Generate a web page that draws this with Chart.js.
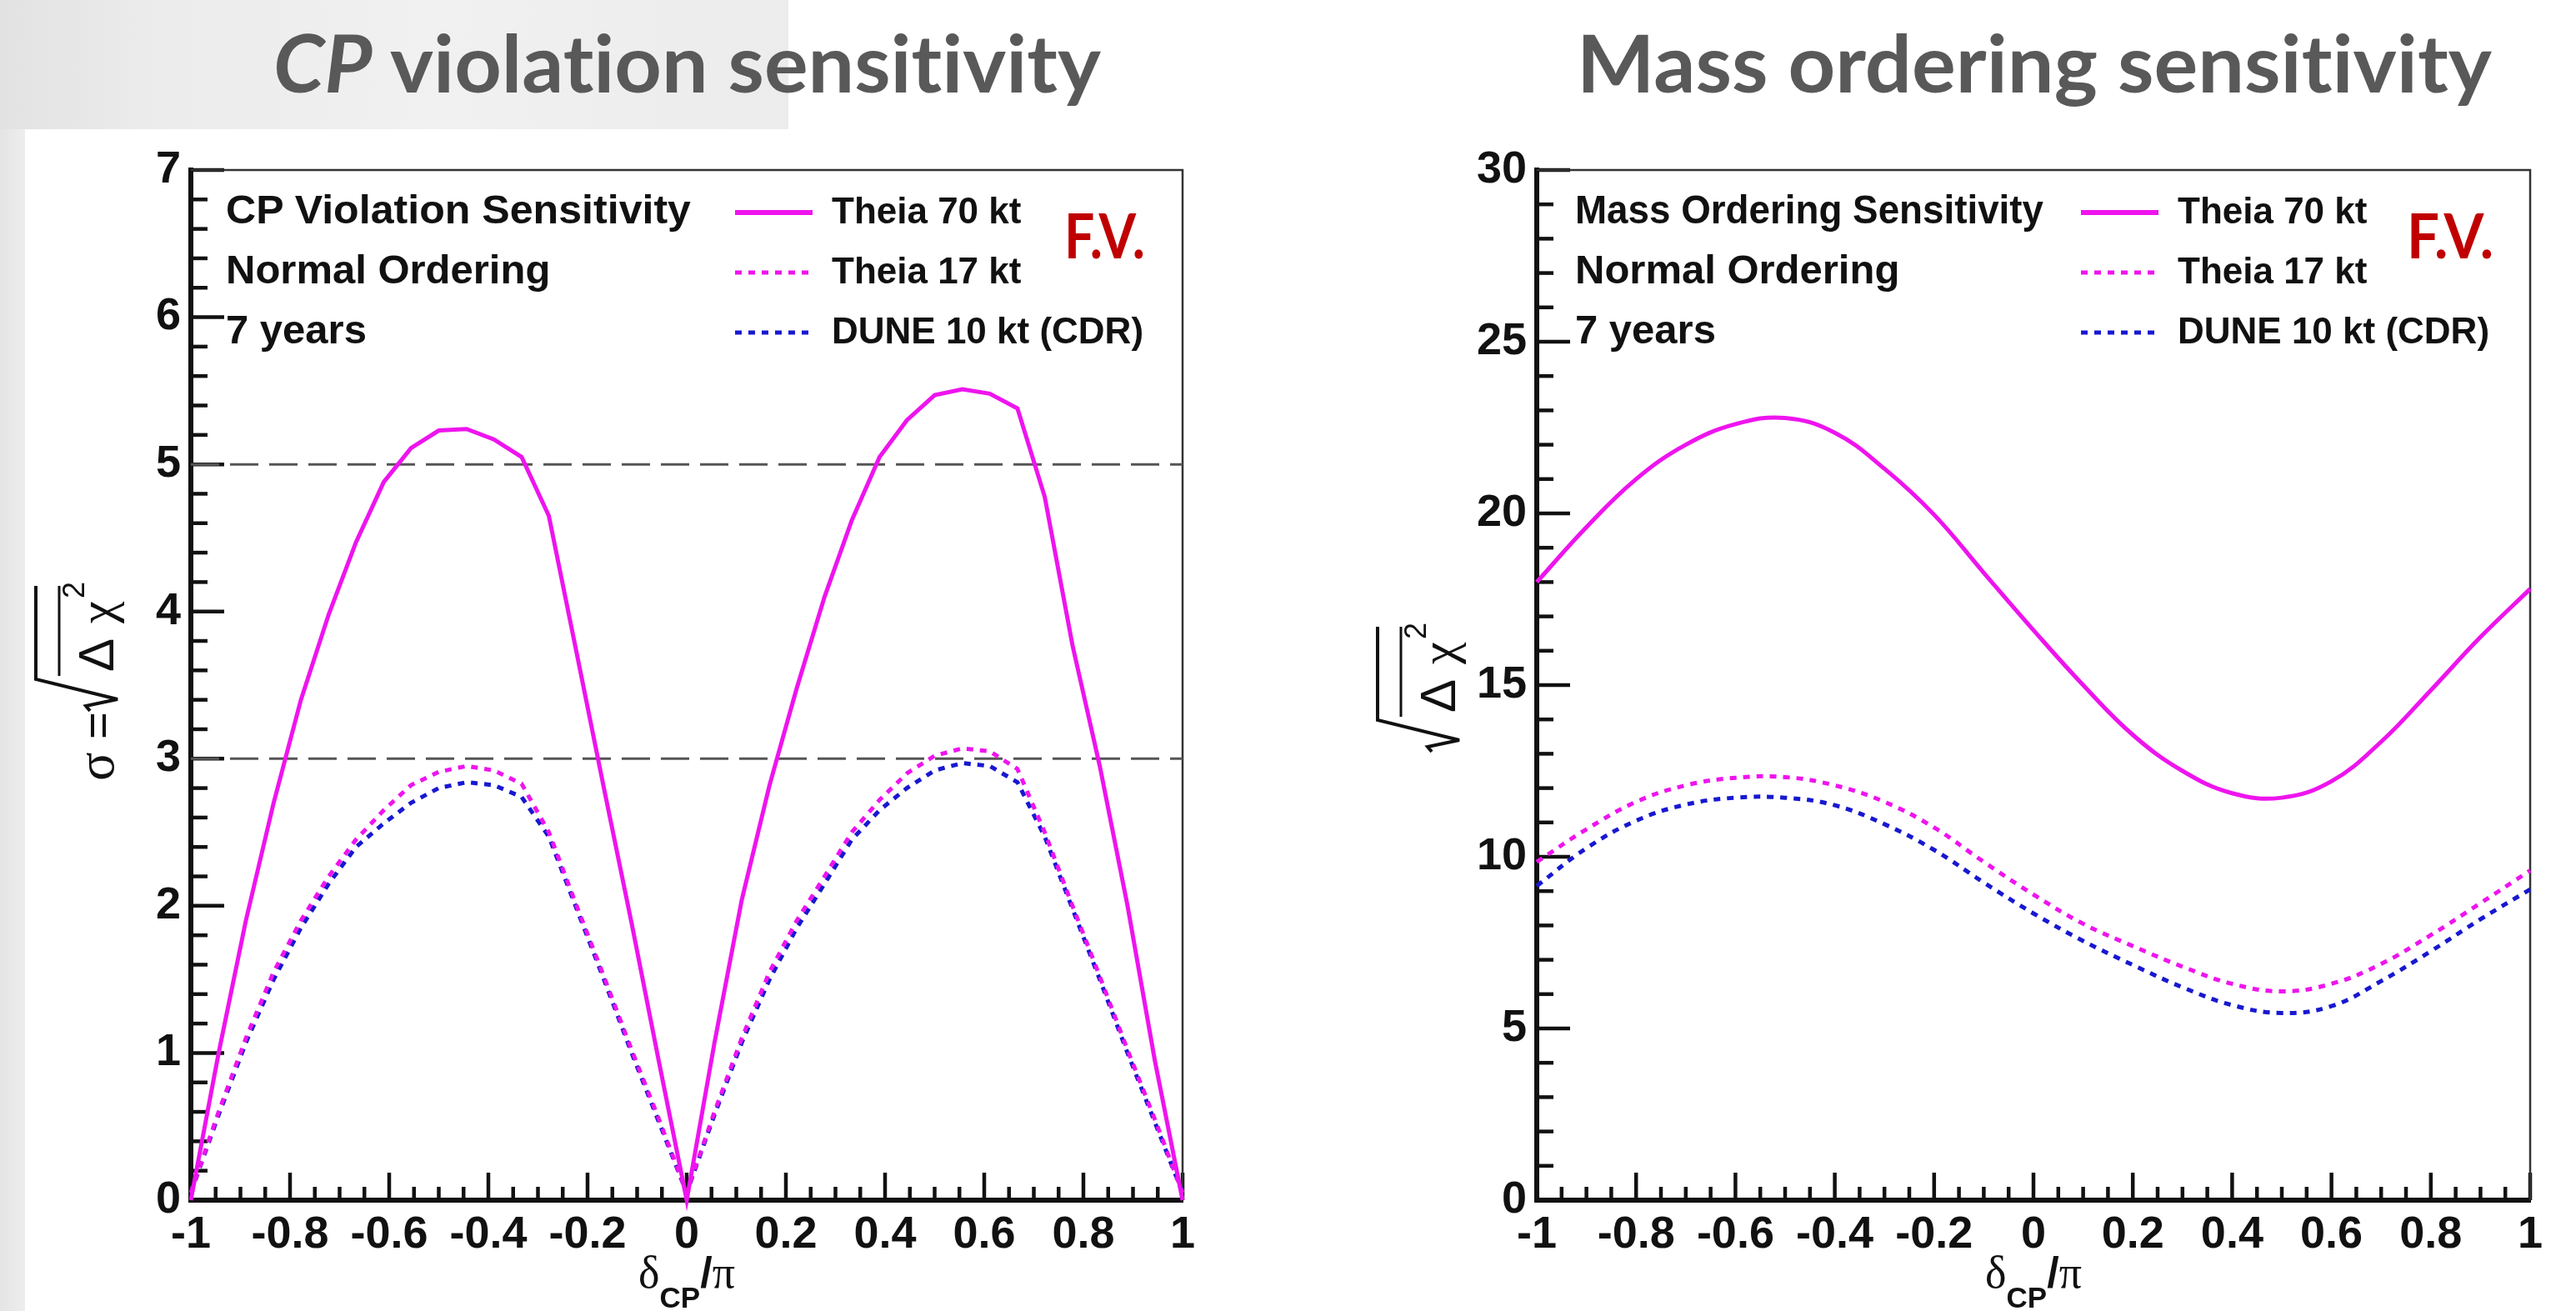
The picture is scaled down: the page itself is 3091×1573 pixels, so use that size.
<!DOCTYPE html>
<html><head><meta charset="utf-8">
<script src="https://cdn.jsdelivr.net/npm/chart.js@4.4.1/dist/chart.umd.min.js"></script>
<style>
html,body{margin:0;padding:0;width:3091px;height:1573px;overflow:hidden;background:#fff;}
#bgTop{position:absolute;left:0;top:0;width:946px;height:155px;background:linear-gradient(90deg,#e2e2e2 0%,#ebebeb 18%,#f1f1f1 55%,#ececec 100%);}
#bgLeft{position:absolute;left:0;top:155px;width:30px;height:1418px;background:linear-gradient(90deg,#e4e4e4,#eeeeee);}
canvas{position:absolute;top:0;}
#c1{left:0;} #c2{left:1545px;}
#ov{position:absolute;left:0;top:0;pointer-events:none;font-variant-ligatures:none;}
</style></head><body>
<div id="bgTop"></div><div id="bgLeft"></div>
<canvas id="c1" width="1545" height="1573"></canvas>
<canvas id="c2" width="1546" height="1573"></canvas>
<svg id="ov" width="3091" height="1573" xmlns="http://www.w3.org/2000/svg"></svg>
<script>
// ---------------- data ----------------
const cpX = [-1, -0.944, -0.889, -0.833, -0.778, -0.722, -0.667, -0.611, -0.556, -0.5, -0.444, -0.389, -0.333, -0.278, -0.222, -0.167, -0.111, -0.056, 0,
             0.056, 0.111, 0.167, 0.222, 0.278, 0.333, 0.389, 0.444, 0.5, 0.556, 0.611, 0.667, 0.722, 0.778, 0.833, 0.889, 0.944, 1];
const cpTheia70 = [0, 1.0, 1.9, 2.7, 3.4, 3.98, 4.47, 4.88, 5.11, 5.23, 5.24, 5.17, 5.05, 4.65, 3.72, 2.8, 1.88, 0.94, 0,
                   1.07, 2.04, 2.82, 3.48, 4.1, 4.62, 5.05, 5.30, 5.47, 5.51, 5.48, 5.38, 4.78, 3.77, 2.95, 2.0, 0.95, 0];
const cpTheia17 = [0.05, 0.6, 1.1, 1.55, 1.9, 2.2, 2.45, 2.65, 2.82, 2.91, 2.95, 2.92, 2.83, 2.5, 2.0, 1.52, 1.02, 0.55, 0.05,
                   0.6, 1.1, 1.55, 1.9, 2.2, 2.5, 2.72, 2.9, 3.02, 3.07, 3.05, 2.93, 2.5, 2.0, 1.52, 1.02, 0.55, 0.05];
const cpDune = [0.05, 0.58, 1.07, 1.5, 1.85, 2.15, 2.4, 2.56, 2.7, 2.8, 2.84, 2.82, 2.74, 2.47, 1.98, 1.5, 1.0, 0.53, 0.05,
                0.58, 1.07, 1.5, 1.85, 2.15, 2.45, 2.65, 2.8, 2.92, 2.97, 2.95, 2.84, 2.47, 1.98, 1.5, 1.0, 0.53, 0.05];
const sigmaLevels = [5, 3];

const moX = [-1, -0.9, -0.8, -0.7, -0.6, -0.5, -0.4, -0.3, -0.2, -0.1, 0, 0.1, 0.2, 0.3, 0.4, 0.5, 0.6, 0.7, 0.8, 0.9, 1];
const moTheia70 = [18.0, 19.6, 21.0, 22.0, 22.6, 22.78, 22.35, 21.3, 19.96, 18.27, 16.6, 15.0, 13.55, 12.5, 11.85, 11.72, 12.2, 13.35, 14.85, 16.4, 17.8];
const moTheia17 = [9.85, 10.8, 11.6, 12.08, 12.3, 12.32, 12.08, 11.6, 10.85, 9.85, 8.9, 8.05, 7.4, 6.8, 6.3, 6.08, 6.3, 6.88, 7.72, 8.65, 9.6];
const moDune = [9.15, 10.25, 11.05, 11.52, 11.72, 11.72, 11.5, 10.95, 10.2, 9.25, 8.35, 7.55, 6.85, 6.2, 5.68, 5.45, 5.65, 6.38, 7.25, 8.18, 9.05];

const xTicks = [-1, -0.8, -0.6, -0.4, -0.2, 0, 0.2, 0.4, 0.6, 0.8, 1];
const cpYTicks = [0, 1, 2, 3, 4, 5, 6, 7];
const moYTicks = [0, 5, 10, 15, 20, 25, 30];

const seriesNames = ['Theia 70 kt', 'Theia 17 kt', 'DUNE 10 kt (CDR)'];
const cpInfo = ['CP Violation Sensitivity', 'Normal Ordering', '7 years'];
const moInfo = ['Mass Ordering Sensitivity', 'Normal Ordering', '7 years'];
const pageTitles = ['violation sensitivity', 'Mass ordering sensitivity'];
const markText = 'F.V.';

// ---------------- styles ----------------
const MAG = '#ee14ee', BLUE = '#1818d0';
const seriesStyle = [
  {color: MAG, dash: []},
  {color: MAG, dash: [8, 8]},
  {color: BLUE, dash: [8, 8]}
];
const TICKFONT = {family: "'Liberation Sans', Arial, sans-serif", size: 54, weight: 'bold'};
Chart.defaults.font.family = "'Liberation Sans', Arial, sans-serif";

function fmt(v) { const r = Math.round(v * 10) / 10; return String(r); }
function pts(xs, ys) { return xs.map((x, i) => ({x: x, y: ys[i]})); }

const rootAxes = {
  id: 'rootAxes',
  beforeDatasetsDraw(chart, args, o) {
    const {ctx, chartArea: a, scales: {x, y}} = chart;
    ctx.save();
    ctx.strokeStyle = '#111';
    ctx.lineWidth = 4.5;
    const nx = Math.round((o.xMax - o.xMin) / o.xMinor);
    for (let i = 0; i <= nx; i++) {
      const v = o.xMin + i * o.xMinor;
      const p = x.getPixelForValue(v);
      const len = (i % o.xPer === 0) ? 33 : 16;
      ctx.beginPath(); ctx.moveTo(p, a.bottom); ctx.lineTo(p, a.bottom - len); ctx.stroke();
    }
    const ny = Math.round((o.yMax - o.yMin) / o.yMinor);
    for (let i = 0; i <= ny; i++) {
      const v = o.yMin + i * o.yMinor;
      const p = y.getPixelForValue(v);
      const len = (i % o.yPer === 0) ? 40 : 20;
      ctx.beginPath(); ctx.moveTo(a.left, p); ctx.lineTo(a.left + len, p); ctx.stroke();
    }
    ctx.strokeStyle = '#333';
    ctx.lineWidth = 2.5;
    ctx.beginPath(); ctx.moveTo(a.left, a.top); ctx.lineTo(a.right, a.top); ctx.lineTo(a.right, a.bottom); ctx.stroke();
    ctx.restore();
  }
};

function makeChart(id, xs, series, yMax, yTicks, yMinor, yPer, yWidth, padRight, tension, refLines) {
  const datasets = series.map((ys, i) => ({
    label: seriesNames[i],
    data: pts(xs, ys),
    borderColor: seriesStyle[i].color,
    borderDash: seriesStyle[i].dash,
    borderWidth: 5,
    pointRadius: 0,
    fill: false,
    tension: tension,
    clip: false
  }));
  refLines.forEach(l => datasets.push({
    label: 'ref' + l,
    data: [{x: -1, y: l}, {x: 1, y: l}],
    borderColor: '#555', borderWidth: 3, borderDash: [34, 13],
    pointRadius: 0, fill: false, tension: 0
  }));
  return new Chart(document.getElementById(id), {
    type: 'line',
    data: {datasets: datasets},
    options: {
      responsive: false, animation: false, devicePixelRatio: 1,
      layout: {padding: {top: 204, right: padRight, left: 0, bottom: 0}},
      plugins: {legend: {display: false}, tooltip: {enabled: false}, rootAxes: {
        xMin: -1, xMax: 1, xMinor: 0.05, xPer: 4, yMin: 0, yMax: yMax, yMinor: yMinor, yPer: yPer}},
      scales: {
        x: {
          type: 'linear', min: -1, max: 1,
          afterBuildTicks: s => { s.ticks = xTicks.map(v => ({value: v})); },
          ticks: {font: TICKFONT, color: '#111', padding: 10, callback: v => fmt(v), maxRotation: 0, autoSkip: false},
          grid: {display: false, drawTicks: false},
          border: {display: true, width: 6, color: '#111'},
          afterFit: s => { s.height = 133; }
        },
        y: {
          type: 'linear', min: 0, max: yMax,
          afterBuildTicks: s => { s.ticks = yTicks.map(v => ({value: v})); },
          ticks: {font: TICKFONT, color: '#111', padding: 12, callback: v => fmt(v), autoSkip: false},
          grid: {display: false, drawTicks: false},
          border: {display: true, width: 6, color: '#111'},
          afterFit: s => { s.width = yWidth; }
        }
      }
    },
    plugins: [rootAxes]
  });
}

makeChart('c1', cpX, [cpTheia70, cpTheia17, cpDune], 7, cpYTicks, 0.2, 5, 229, 126, 0, sigmaLevels);
makeChart('c2', moX, [moTheia70, moTheia17, moDune], 30, moYTicks, 1, 5, 299, 55, 0.4, []);

// ---------------- overlay texts ----------------
const NS = 'http://www.w3.org/2000/svg';
const ov = document.getElementById('ov');
function el(tag, attrs, parent, text) {
  const e = document.createElementNS(NS, tag);
  for (const k in attrs) e.setAttribute(k, attrs[k]);
  if (text !== undefined) e.textContent = text;
  (parent || ov).appendChild(e);
  return e;
}
const TF = "Lato, 'Open Sans', sans-serif";
const SANS = "'Liberation Sans', Arial, sans-serif";
const SERIF = "'Liberation Serif', 'DejaVu Serif', serif";

// page titles
let t = el('text', {x: 328, y: 111, 'font-family': TF, 'font-weight': 700, 'font-size': 96, fill: '#595959', textLength: 993, lengthAdjust: 'spacingAndGlyphs'});
el('tspan', {'font-style': 'italic'}, t, 'CP');
el('tspan', {}, t, ' ' + pageTitles[0]);
el('text', {x: 1892, y: 111, 'font-family': TF, 'font-weight': 700, 'font-size': 96, fill: '#595959', textLength: 1098, lengthAdjust: 'spacingAndGlyphs'}, null, pageTitles[1]);

function legend(L, c1x, info, infoLen, fvX, fvLen) {
  const bases = [268, 340, 412];
  info.forEach((s, i) => {
    const a = {x: c1x, y: bases[i], 'font-family': SANS, 'font-weight': 700, 'font-size': 49, fill: '#111'};
    if (i === 0) { a.textLength = infoLen; a.lengthAdjust = 'spacingAndGlyphs'; }
    el('text', a, null, s);
  });
  seriesNames.forEach((s, i) => {
    el('line', {x1: L + 653, x2: L + 746, y1: bases[i] - 13, y2: bases[i] - 13, stroke: seriesStyle[i].color,
      'stroke-width': i === 0 ? 6 : 5, 'stroke-dasharray': seriesStyle[i].dash.join(' ') || 'none'});
    el('text', {x: L + 769, y: bases[i], 'font-family': SANS, 'font-weight': 700, 'font-size': 44, fill: '#111'}, null, s);
  });
  el('text', {x: fvX, y: 310, 'font-family': TF, 'font-weight': 700, 'font-size': 74, fill: '#c00000', textLength: fvLen, lengthAdjust: 'spacingAndGlyphs'}, null, markText);
}
legend(229, 271, cpInfo, 558, 1277, 97);
legend(1844, 1890, moInfo, 562, 2888, 104);

function xTitle(cx) {
  const tx = el('text', {x: cx, y: 1545, 'text-anchor': 'middle', fill: '#111', 'font-size': 54});
  el('tspan', {'font-family': SERIF}, tx, 'δ');
  el('tspan', {'font-family': SANS, 'font-weight': 700, 'font-size': 35, dy: 24}, tx, 'CP');
  el('tspan', {'font-family': SANS, 'font-weight': 700, 'font-size': 52, dy: -24}, tx, '/');
  el('tspan', {'font-family': SERIF}, tx, 'π');
}
xTitle(824);
xTitle(2440);

// y titles (rotated); x0 = start of radical along the text direction
function sqrtBlock(g, x0) {
  el('path', {d: `M ${x0},-28 L ${x0 + 6},-33 L ${x0 + 14},5 L ${x0 + 38},-93 L ${x0 + 150},-93`, fill: 'none', stroke: '#111', 'stroke-width': 4, 'stroke-linejoin': 'miter'}, g);
  el('path', {d: `M ${x0 + 42},-65 L ${x0 + 150},-65`, fill: 'none', stroke: '#111', 'stroke-width': 3}, g);
  el('text', {x: x0 + 47, y: 0, 'font-family': SANS, 'font-size': 60, fill: '#111'}, g, 'Δ');
  el('text', {x: x0 + 105, y: 0, 'font-family': SERIF, 'font-size': 60, fill: '#111'}, g, 'χ');
  el('text', {x: x0 + 135, y: -35, 'font-family': SANS, 'font-size': 36, fill: '#111'}, g, '2');
}
let g1 = el('g', {transform: 'translate(136,937) rotate(-90)'});
el('text', {x: 0, y: 0, 'font-family': SERIF, 'font-size': 64, fill: '#111'}, g1, 'σ');
el('text', {x: 50, y: 0, 'font-family': SANS, 'font-size': 56, fill: '#111'}, g1, '=');
sqrtBlock(g1, 84);
let g2 = el('g', {transform: 'translate(1746,910) rotate(-90)'});
sqrtBlock(g2, 8);
</script>
</body></html>
